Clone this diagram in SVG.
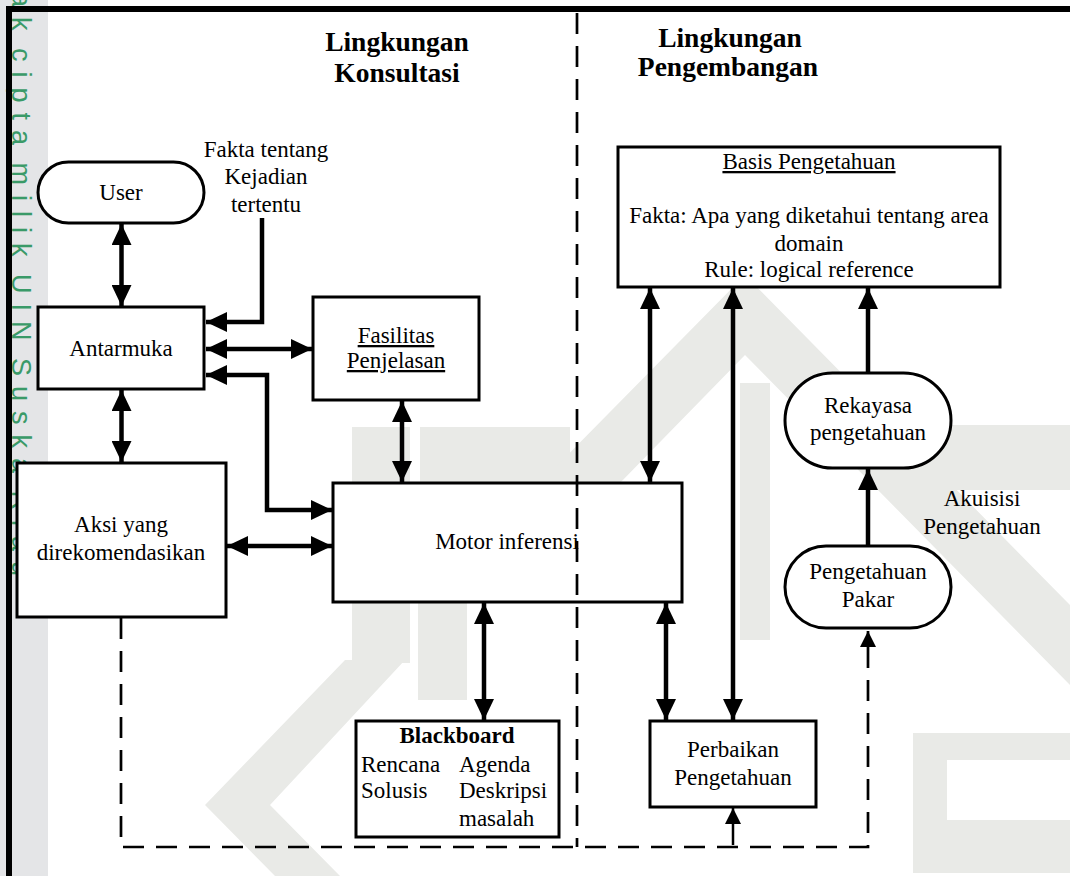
<svg xmlns="http://www.w3.org/2000/svg" width="1070" height="876" viewBox="0 0 1070 876">
<style>
  text { font-family: "Liberation Serif", "Times New Roman", serif; font-size: 23px; fill: #000; }
  .c { text-anchor: middle; }
  .title { font-weight: bold; font-size: 27.5px; text-anchor: middle; }
  .b { font-weight: bold; }
  .u { text-decoration: underline; }
  .box { fill: #fff; stroke: #000; stroke-width: 3; }
  .conn { fill: none; stroke: #000; stroke-width: 4.5; }
  .dash { fill: none; stroke: #000; stroke-width: 2.7; stroke-dasharray: 21 12; }
  .thin { fill: none; stroke: #000; stroke-width: 2.5; }
  .wm { font-family: "Liberation Sans", Arial, sans-serif; font-size: 27px; fill: #3a9a68; letter-spacing: 10px; word-spacing: -10px; }
  .logo { fill: #e9eae7; }
</style>
<defs>
  <marker id="ah" markerUnits="userSpaceOnUse" markerWidth="21" markerHeight="20" refX="21" refY="10" orient="auto-start-reverse" viewBox="0 0 21 20">
    <path d="M0,0 L21,10 L0,20 Z" fill="#000"/>
  </marker>
  <marker id="sh" markerUnits="userSpaceOnUse" markerWidth="16" markerHeight="16" refX="16" refY="8" orient="auto-start-reverse" viewBox="0 0 16 16">
    <path d="M0,0 L16,8 L0,16 Z" fill="#000"/>
  </marker>
</defs>
<rect x="0" y="0" width="1070" height="876" fill="#fff"/>
<g id="watermark">
  <rect x="0" y="0" width="48" height="876" fill="#e4e5e7"/>
  <text class="wm" transform="translate(12,-8) rotate(90)">ak cipta milik UIN Suska Riau</text>
  <rect class="logo" x="352" y="427" width="58" height="236"/>
  <rect class="logo" x="420" y="427" width="150" height="56"/>
  <rect class="logo" x="418" y="602" width="49" height="98"/>
  <polygon class="logo" points="345,660 405,660 270,805 340,876 275,876 205,805"/>
  <polygon class="logo" points="540,483 745,275 1070,605 1070,685 745,355 620,483"/>
  <rect class="logo" x="740" y="383" width="30" height="257"/>
  <rect class="logo" x="913" y="425" width="157" height="65"/>
  <path class="logo" fill-rule="evenodd" d="M913,733 H1070 V873 H913 Z M947,760 V820 H1070 V760 Z"/>
  <path d="M9,876 V9 H1070" fill="none" stroke="#000" stroke-width="6"/>
</g>

<g id="titles">
  <text class="title" x="397" y="51">Lingkungan</text>
  <text class="title" x="397" y="82">Konsultasi</text>
  <text class="title" x="730" y="47">Lingkungan</text>
  <text class="title" x="728" y="76">Pengembangan</text>
</g>

<g id="node-user">
  <rect class="box" x="38" y="162" width="166" height="61" rx="30.5"/>
  <text class="c" x="121" y="200">User</text>
</g>
<g id="label-fakta">
  <text class="c" x="266" y="157">Fakta tentang</text>
  <text class="c" x="266" y="184">Kejadian</text>
  <text class="c" x="266" y="212">tertentu</text>
</g>
<g id="node-antarmuka">
  <rect class="box" x="38" y="307" width="166" height="82"/>
  <text class="c" x="121" y="356">Antarmuka</text>
</g>
<g id="node-fasilitas">
  <rect class="box" x="313" y="297" width="166" height="103"/>
  <text class="c u" x="396" y="343">Fasilitas</text>
  <text class="c u" x="396" y="368">Penjelasan</text>
</g>
<g id="node-aksi">
  <rect class="box" x="17" y="463" width="209" height="154"/>
  <text class="c" x="121" y="532">Aksi yang</text>
  <text class="c" x="121" y="560">direkomendasikan</text>
</g>
<g id="node-motor">
  <rect class="box" x="333" y="483" width="349" height="119"/>
  <text class="c" x="507" y="549">Motor inferensi</text>
</g>
<g id="node-blackboard">
  <rect class="box" x="356" y="721" width="203" height="116"/>
  <text class="c b" x="457" y="743">Blackboard</text>
  <text x="361" y="772">Rencana</text>
  <text x="459" y="772">Agenda</text>
  <text x="361" y="798">Solusis</text>
  <text x="459" y="798">Deskripsi</text>
  <text x="459" y="826">masalah</text>
</g>
<g id="node-basis">
  <rect class="box" x="618" y="147" width="382" height="140"/>
  <text class="c u" x="809" y="169">Basis Pengetahuan</text>
  <text class="c" x="809" y="223">Fakta: Apa yang diketahui tentang area</text>
  <text class="c" x="809" y="251">domain</text>
  <text class="c" x="809" y="277">Rule: logical reference</text>
</g>
<g id="node-rekayasa">
  <rect class="box" x="785" y="373" width="166" height="95" rx="47.5"/>
  <text class="c" x="868" y="413">Rekayasa</text>
  <text class="c" x="868" y="440">pengetahuan</text>
</g>
<g id="label-akuisisi">
  <text class="c" x="982" y="506">Akuisisi</text>
  <text class="c" x="982" y="534">Pengetahuan</text>
</g>
<g id="node-pakar">
  <rect class="box" x="785" y="546" width="166" height="82" rx="41"/>
  <text class="c" x="868" y="579">Pengetahuan</text>
  <text class="c" x="868" y="607">Pakar</text>
</g>
<g id="node-perbaikan">
  <rect class="box" x="650" y="721" width="166" height="86"/>
  <text class="c" x="733" y="757">Perbaikan</text>
  <text class="c" x="733" y="785">Pengetahuan</text>
</g>

<g id="connectors">
  <path class="conn" d="M121.5,224 V306" marker-start="url(#ah)" marker-end="url(#ah)"/>
  <path class="conn" d="M262,218 V322 H206" marker-end="url(#ah)"/>
  <path class="conn" d="M206,349 H312" marker-start="url(#ah)" marker-end="url(#ah)"/>
  <path class="conn" d="M206,375 H267 V510 H332" marker-start="url(#ah)" marker-end="url(#ah)"/>
  <path class="conn" d="M121.5,390 V462" marker-start="url(#ah)" marker-end="url(#ah)"/>
  <path class="conn" d="M402,401 V482" marker-start="url(#ah)" marker-end="url(#ah)"/>
  <path class="conn" d="M227,546 H332" marker-start="url(#ah)" marker-end="url(#ah)"/>
  <path class="conn" d="M484,603 V720" marker-start="url(#ah)" marker-end="url(#ah)"/>
  <path class="conn" d="M650,288 V482" marker-start="url(#ah)" marker-end="url(#ah)"/>
  <path class="conn" d="M733,288 V720" marker-start="url(#ah)" marker-end="url(#ah)"/>
  <path class="conn" d="M666,603 V720" marker-start="url(#ah)" marker-end="url(#ah)"/>
  <path class="conn" d="M868,372 V288" marker-end="url(#ah)"/>
  <path class="conn" d="M868,546 V469" marker-end="url(#ah)"/>
  <path class="dash" d="M121,618 V847 H868 V631" marker-end="url(#sh)"/>
  <path class="thin" d="M733,845 V808" marker-end="url(#sh)"/>
  <path class="dash" d="M577,13 V847"/>
</g>
</svg>
